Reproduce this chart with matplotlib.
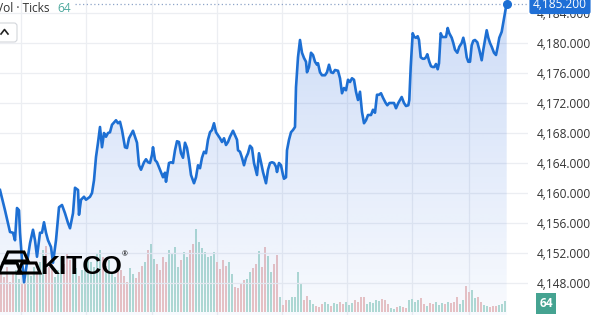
import numpy as np
import matplotlib
matplotlib.use("Agg")
import matplotlib.pyplot as plt
import matplotlib.colors as mcolors
from matplotlib.ticker import FuncFormatter
from matplotlib.patches import FancyBboxPatch, Polygon
from matplotlib.transforms import IdentityTransform, blended_transform_factory
from matplotlib.lines import Line2D

# ---------------- data ----------------
tick_time = [
    0, 5, 10, 13, 15, 17, 19, 20, 22, 24, 27, 30, 33, 35, 37, 40, 42, 44, 46, 48,
    51, 53, 56, 59, 62, 65, 68, 70, 73, 75, 78, 79, 81, 84, 86, 88, 90, 92, 94, 96,
    98, 100, 102, 104, 106, 108, 110, 112, 116, 118, 120, 122, 125, 127, 129, 133, 135, 137, 139, 141,
    144, 146, 148, 150, 152, 153, 155, 157, 160, 163, 165, 166, 169, 171, 173, 175, 177, 179, 181, 183,
    185, 187, 189, 191, 194, 196, 198, 200, 202, 204, 206, 208, 210, 212, 214, 216, 218, 220, 222, 224,
    226, 228, 230, 233, 235, 237, 238, 240, 242, 244, 246, 248, 250, 252, 254, 257, 259, 261, 263, 266,
    268, 270, 272, 274, 276, 277, 279, 281, 283, 284, 286, 287, 289, 291, 293, 295, 296, 298, 300, 302,
    304, 306, 307, 309, 311, 313, 315, 317, 318, 320, 322, 325, 327, 329, 331, 333, 335, 338, 340, 342,
    344, 346, 348, 350, 352, 354, 356, 358, 360, 362, 364, 366, 368, 371, 373, 375, 377, 379, 381, 383,
    385.7, 387.3, 389.3, 391.7, 394, 396, 398.3, 400, 401.7, 404,
    406, 408.3, 409.3, 410.7, 412.7, 414.3, 416, 417.7, 419, 420.7,
    422.7, 424.3, 426, 427.3, 429.3, 431, 432.7, 434.3, 436, 437.7,
    439, 440.7, 442.3, 444, 446, 447.7, 449.3, 451.7, 453.3, 455,
    457.3, 459.3, 461.7, 463.3, 465, 466.7, 468.3, 470, 471.7, 473.3,
    475, 477.3, 479.3, 481.7, 483.3, 485, 486.7, 488.3, 490, 491.7,
    494, 496, 497.7, 499.3, 501.7, 504, 506, 506.7,
]

price = [
    4160.4, 4157.7, 4154.8, 4154.7, 4153.7, 4158.0, 4157.7, 4154.7, 4151.1, 4148.1,
    4150.7, 4153.3, 4155.1, 4153.7, 4151.5, 4154.7, 4154.7, 4156.1, 4154.7, 4153.7,
    4152.8, 4150.7, 4153.7, 4158.1, 4158.4, 4157.3, 4156.0, 4155.3, 4157.3, 4160.7,
    4160.4, 4157.1, 4159.1, 4159.5, 4159.1, 4159.3, 4159.5, 4160.0, 4161.7, 4164.8,
    4166.7, 4168.8, 4166.1, 4168.0, 4167.5, 4168.0, 4168.1, 4169.1, 4169.7, 4169.3,
    4169.5, 4168.4, 4166.1, 4166.0, 4167.3, 4168.3, 4167.5, 4166.7, 4163.7, 4163.1,
    4164.1, 4164.5, 4164.1, 4164.0, 4165.1, 4166.1, 4164.4, 4164.1, 4163.1, 4162.1,
    4162.7, 4161.5, 4164.0, 4164.1, 4164.0, 4165.7, 4166.9, 4166.8, 4165.3, 4164.7,
    4166.7, 4166.0, 4164.4, 4162.4, 4161.3, 4162.1, 4163.7, 4163.3, 4164.7, 4165.5,
    4165.3, 4167.1, 4168.1, 4168.4, 4169.3, 4168.1, 4167.7, 4167.3, 4166.8, 4167.3,
    4166.4, 4166.8, 4167.5, 4168.3, 4167.7, 4167.1, 4165.7, 4165.5, 4164.7, 4163.7,
    4164.7, 4165.3, 4166.3, 4166.0, 4164.0, 4162.4, 4165.3, 4164.1, 4162.8, 4161.3,
    4163.1, 4164.0, 4164.1, 4164.0, 4163.5, 4162.8, 4164.0, 4163.7, 4162.4, 4161.9,
    4162.1, 4165.7, 4167.1, 4168.1, 4168.4, 4168.8, 4174.1, 4178.1, 4180.4, 4178.7,
    4178.0, 4177.5, 4176.1, 4176.8, 4178.7, 4178.4, 4177.5, 4177.1, 4177.3, 4176.1,
    4175.7, 4175.7, 4176.1, 4177.1, 4176.1, 4176.0, 4176.4, 4176.3, 4175.3, 4173.3,
    4174.0, 4173.7, 4175.1, 4174.8, 4175.3, 4175.1, 4173.5, 4172.4, 4173.5, 4170.8,
    4169.3, 4169.7, 4170.4, 4170.4, 4171.1, 4170.7, 4173.1, 4173.1, 4173.3, 4172.7,
    4172.0, 4171.7, 4172.0, 4172.0, 4172.0, 4171.3, 4172.0, 4172.4, 4172.8, 4172.0,
    4171.6, 4171.7, 4172.4, 4176.8, 4181.3, 4180.8, 4180.7, 4180.9, 4180.4, 4178.1,
    4177.9, 4177.9, 4178.1, 4178.5, 4177.5, 4176.9, 4176.8, 4176.8, 4177.2, 4176.5,
    4177.3, 4181.3, 4180.8, 4180.8, 4180.8, 4182.0, 4181.3, 4180.7, 4180.0, 4179.1,
    4178.7, 4179.5, 4180.0, 4180.7, 4179.7, 4178.1, 4177.5, 4177.5, 4179.7, 4180.3,
    4180.4, 4180.1, 4179.1, 4177.7, 4179.1, 4180.4, 4181.7, 4180.7, 4180.0, 4179.5,
    4178.7, 4178.4, 4179.5, 4180.7, 4181.5, 4183.3, 4184.8, 4185.2,
]

volume = [
    40, 35, 45, 30, 38, 42, 33, 28, 32, 40, 36, 45, 38, 50, 62, 66, 45, 48, 35, 42,
    55, 48, 58, 52, 38, 44, 36, 42, 48, 55, 50, 45, 58, 62, 55, 46, 52, 40, 35, 48,
    42, 36, 30, 44, 38, 34, 40, 46, 50, 62, 68, 53, 48, 42, 55, 50, 62, 58, 65, 45,
    52, 60, 55, 62, 68, 83, 70, 64, 60, 55, 56, 60, 50, 43, 52, 46, 50, 38, 25, 24,
    28, 32, 33, 40, 44, 48, 61, 45, 65, 56, 40, 48, 57, 15, 7, 12, 12, 15, 15, 40,
    28, 12, 16, 12, 8, 6, 5, 8, 10, 8, 6, 9, 8, 10, 8, 10, 7, 9, 12, 10,
    15, 15, 8, 10, 9, 12, 11, 13, 12, 8, 4, 3, 5, 6, 5, 4, 12, 13, 10, 12,
    14, 8, 6, 9, 8, 10, 7, 9, 8, 10, 9, 10, 15, 8, 12, 26, 20, 22, 14, 15,
    10, 7, 6, 5, 6, 6, 7, 8, 11,
]

price_ticks = [4148, 4152, 4156, 4160, 4164, 4168, 4172, 4176, 4180, 4184]
time_grid = [21, 86, 151.5, 216.5, 281.5, 346.5, 411.7, 468.5]
last_price = price[-1]
last_volume_label = "64"
legend_name = "Vol · Ticks"

# ---------------- styling ----------------
W, H = 600, 315
LINE = "#1d6fd3"
FONT = "Open Sans"
plt.rcParams["font.family"] = [FONT, "DejaVu Sans"]

fig = plt.figure(figsize=(W / 100, H / 100), dpi=100)
fig.patch.set_facecolor("white")

plot_w = 528
ax_vol = fig.add_axes([0, 0, plot_w / W, 1])
ax = fig.add_axes([0, 0, plot_w / W, 1], sharex=ax_vol)
ax.patch.set_visible(False)

y_lo = 4148 - 32 / 7.5
y_hi = 4148 + 283 / 7.5
ax.set_xlim(0, plot_w)
ax.set_ylim(y_lo, y_hi)

# volume bars
t_arr = np.asarray(tick_time, float)
p_arr = np.asarray(price, float)
vol_t = 1 + 3 * np.arange(len(volume))
p_now = np.interp(vol_t, t_arr, p_arr)
p_prev = np.interp(vol_t - 3, t_arr, p_arr)
vcols = ["#b3dcd3" if a >= b else "#ecc4c4" for a, b in zip(p_now, p_prev)]
ax_vol.bar(vol_t, volume, width=1.1, color=vcols, linewidth=0, zorder=2)
ax_vol.set_ylim(-3, H - 3)
for s in ax_vol.spines.values():
    s.set_visible(False)
ax_vol.set_yticks([])
ax_vol.tick_params(axis="x", length=0, labelbottom=False)
ax_vol.set_facecolor("white")

# grid
ax.set_xticks(time_grid)
ax.grid(False)
gl_col = "#eceef2"
for tg in time_grid:
    ax_vol.axvline(tg, color=gl_col, lw=0.9, zorder=0)
for pt in price_ticks:
    ax.axhline(pt, color=gl_col, lw=0.9, zorder=0)

# gradient area
rgb = mcolors.to_rgb("#2164dc")
grad = np.zeros((256, 1, 4))
grad[..., :3] = rgb
grad[:, 0, 3] = np.linspace(0.03, 0.23, 256)
im = ax.imshow(grad, extent=[0, plot_w, y_lo, y_hi], origin="lower",
               aspect="auto", zorder=1, interpolation="bilinear")
fb = ax.fill_between(tick_time, price, y_lo, facecolor="none", edgecolor="none")
im.set_clip_path(fb.get_paths()[0], transform=ax.transData)
ax.set_xlim(0, plot_w)
ax.set_ylim(y_lo, y_hi)

# last price dotted line
ax.axhline(last_price, xmin=75 / plot_w, xmax=1.0, color="#8ea4c8", lw=0.9,
           ls=(0, (1, 2)), zorder=2)

# price line
ax.plot(tick_time, price, color=LINE, lw=1.9, zorder=4, solid_joinstyle="round")
ax.plot(tick_time[-1], price[-1], "o", ms=5.5, color=LINE, zorder=5)

# axes styling
for s in ax.spines.values():
    s.set_visible(False)
ax.yaxis.tick_right()
ax.set_yticks(price_ticks)
ax.yaxis.set_major_formatter(FuncFormatter(lambda v, p: f"{v:,.3f}"))
ax.tick_params(axis="y", length=0, pad=(537 - plot_w) * 0.72, labelsize=8.6,
               labelcolor="#333333")
ax.tick_params(axis="x", length=0, labelbottom=False)

# last price label
trans = blended_transform_factory(ax.transAxes, ax.transData)
ax.text(1 + 5 / plot_w, last_price, f"{last_price:,.3f}", transform=trans,
        ha="left", va="center", color="white", fontsize=8.6, zorder=10,
        bbox=dict(boxstyle="round,pad=0.3,rounding_size=0.2", fc="#1f6fd6", ec="none"),
        clip_on=False)

# volume label
fig.text(546 / W, 1 - 303.5 / H, last_volume_label, ha="center", va="center",
         color="white", fontsize=8.6, fontweight="bold",
         bbox=dict(boxstyle="square,pad=0.3", fc="#45a391", ec="none"))

# legend text (top-left, cut off as in the source screenshot)
fig.text(50 / W, 1 - 8 / H, legend_name, ha="right", va="center",
         color="#333333", fontsize=8.6)
fig.text(57 / W, 1 - 8 / H, last_volume_label, ha="left", va="center",
         color="#4ea99e", fontsize=8.6)

# collapse button
idt = IdentityTransform()
btn = FancyBboxPatch((-8, H - 42), 25, 19, boxstyle="round,pad=0,rounding_size=3",
                     transform=idt, fc="white", ec="#d3d6db", lw=0.8)
fig.add_artist(btn)
fig.add_artist(Line2D([1, 4.5, 8], [H - 34, H - 29.5, H - 34], transform=idt,
                      color="#222222", lw=1.2))

# KITCO logo
def px(x, y):
    return (x, H - y)

bars = [
    [px(8, 252), px(24, 252), px(28, 261), px(4, 261)],
    [px(3, 263), px(17, 263), px(21, 273), px(-1, 273)],
    [px(22, 263), px(36, 263), px(40, 273), px(18, 273)],
]
for b in bars:
    fig.add_artist(Polygon(b, closed=True, transform=idt, fc="none",
                           ec="black", lw=2.2, joinstyle="miter"))
fig.text(40 / W, 1 - 274 / H, "KITCO", ha="left", va="baseline",
         fontsize=19, fontweight="bold", family=["Liberation Sans", "DejaVu Sans"],
         color="black")
fig.text(125 / W, 1 - 255 / H, "®", ha="center", va="center", fontsize=5,
         color="black")

fig.savefig("out.png", dpi=100)
